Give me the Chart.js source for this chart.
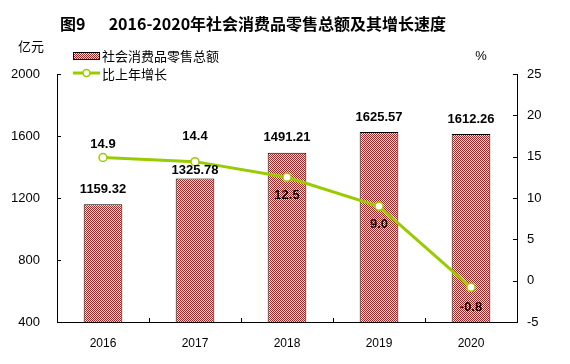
<!DOCTYPE html>
<html><head><meta charset="utf-8">
<script src="https://cdn.jsdelivr.net/npm/chart.js@4"></script>
<style>html,body{margin:0;padding:0;background:#fff}#wrap{width:570px;height:364px}</style>
</head><body><div id="wrap"><canvas id="c" width="570" height="364"></canvas></div>
<script>
const categories = ['2016','2017','2018','2019','2020'];
const salesValues = [1159.32, 1325.78, 1491.21, 1625.57, 1612.26];
const growthValues = [14.9, 14.4, 12.5, 9.0, -0.8];
const leftTicks = [400, 800, 1200, 1600, 2000];
const rightTicks = [-5, 0, 5, 10, 15, 20, 25];
const titleText = '图9\u3000\u00a0\u00a02016-2020年社会消费品零售总额及其增长速度';
const salesName = '社会消费品零售总额';
const growthName = '比上年增长';
const leftUnit = '亿元';
const rightUnit = '%';

// label placement (style only)
const barLabelOffset = [-15, -8, -15, -15, -15];
const lineLabelOffset = [-13, -25, 18, 18, 20];

const GREEN = '#99CC00';
const CJK = '"Noto Sans CJK SC", "Liberation Sans", sans-serif';
const NUM = '"Liberation Sans", Arial, sans-serif';

function checker() {
  const p = document.createElement('canvas'); p.width = 2; p.height = 2;
  const x = p.getContext('2d');
  x.fillStyle = '#fff'; x.fillRect(0,0,2,2);
  x.fillStyle = '#FF0000'; x.fillRect(0,0,1,1); x.fillRect(1,1,1,1);
  return document.getElementById('c').getContext('2d').createPattern(p, 'repeat');
}
const pat = checker();

const decor = {
  id: 'decor',
  afterDraw(chart) {
    const ctx = chart.ctx;
    const ca = chart.chartArea;
    ctx.save();
    ctx.strokeStyle = '#000'; ctx.lineWidth = 1;
    const yl = chart.scales.y, yr = chart.scales.y1, xs = chart.scales.x;
    yl.ticks.forEach((t,i)=>{ const py = Math.round(yl.getPixelForTick(i))+0.5; ctx.beginPath(); ctx.moveTo(ca.left, py); ctx.lineTo(ca.left+4, py); ctx.stroke(); });
    yr.ticks.forEach((t,i)=>{ const py = Math.round(yr.getPixelForTick(i))+0.5; ctx.beginPath(); ctx.moveTo(ca.right, py); ctx.lineTo(ca.right-4, py); ctx.stroke(); });
    for (let i = 1; i < categories.length; i++) {
      const px = Math.round((xs.getPixelForValue(i-1)+xs.getPixelForValue(i))/2)+0.5;
      ctx.beginPath(); ctx.moveTo(px, ca.bottom); ctx.lineTo(px, ca.bottom-4); ctx.stroke();
    }
    ctx.fillStyle = '#000';
    ctx.font = 'bold 16px ' + CJK;
    ctx.textAlign = 'center'; ctx.textBaseline = 'middle';
    ctx.fillText(titleText, 253, 24);
    ctx.font = '13px ' + CJK;
    ctx.fillText(leftUnit, 31, 46);
    ctx.font = '13px ' + NUM;
    ctx.fillText(rightUnit, 481, 56);
    ctx.fillStyle = pat; ctx.fillRect(73, 52, 26, 7);
    ctx.strokeStyle = '#000'; ctx.strokeRect(73.5, 52.5, 26, 7);
    ctx.strokeStyle = GREEN; ctx.lineWidth = 3;
    ctx.beginPath(); ctx.moveTo(73, 73); ctx.lineTo(100, 73); ctx.stroke();
    ctx.fillStyle = '#fff'; ctx.lineWidth = 1.5;
    ctx.beginPath(); ctx.arc(86.5, 73, 3.5, 0, Math.PI*2); ctx.fill(); ctx.stroke();
    ctx.fillStyle = '#000'; ctx.textAlign = 'left';
    ctx.font = '13px ' + CJK;
    ctx.fillText(salesName, 102, 56);
    ctx.fillText(growthName, 102, 74);
    ctx.font = 'bold 13px ' + NUM; ctx.textAlign = 'center';
    const bm = chart.getDatasetMeta(0);
    bm.data.forEach((el,i)=>{ ctx.fillText(salesValues[i].toFixed(2), el.x, el.y + barLabelOffset[i]); });
    const lm = chart.getDatasetMeta(1);
    lm.data.forEach((el,i)=>{ ctx.fillText(growthValues[i].toFixed(1), el.x, el.y + lineLabelOffset[i]); });
    ctx.restore();
  }
};

new Chart(document.getElementById('c'), {
  data: {
    labels: categories,
    datasets: [
      { type: 'bar', label: salesName, data: salesValues, yAxisID: 'y',
        backgroundColor: pat, borderColor: '#000', borderWidth: 1,
        barPercentage: 0.42, categoryPercentage: 1, order: 2 },
      { type: 'line', label: growthName, data: growthValues, yAxisID: 'y1',
        borderColor: GREEN, borderWidth: 3, pointRadius: 4, pointBorderWidth: 1.5,
        pointBackgroundColor: '#fff', pointBorderColor: GREEN, tension: 0, order: 1 }
    ]
  },
  options: {
    responsive: false, animation: false, devicePixelRatio: 1,
    layout: { padding: { top: 74, left: 0, right: 0, bottom: 0 } },
    plugins: { legend: { display: false }, tooltip: { enabled: false }, title: { display: false } },
    scales: {
      x: {
        grid: { display: false, drawTicks: false },
        border: { color: '#000', width: 1 },
        ticks: { color: '#000', font: { family: NUM, size: 12 }, padding: 14 },
        afterFit(s) { s.height = 42; }
      },
      y: {
        position: 'left', min: 400, max: 2000,
        afterBuildTicks(s) { s.ticks = leftTicks.map(v=>({value:v})); },
        grid: { display: false, drawTicks: false },
        border: { color: '#000', width: 1 },
        ticks: { color: '#000', font: { family: NUM, size: 13 }, padding: 17, callback: v => String(v) },
        afterFit(s) { s.width = 57; }
      },
      y1: {
        position: 'right', min: -5, max: 25,
        afterBuildTicks(s) { s.ticks = rightTicks.map(v=>({value:v})); },
        grid: { display: false, drawTicks: false },
        border: { color: '#000', width: 1 },
        ticks: { color: '#000', font: { family: NUM, size: 13 }, padding: 10, callback: v => String(v) },
        afterFit(s) { s.width = 53; }
      }
    }
  },
  plugins: [decor]
});
</script></body></html>
